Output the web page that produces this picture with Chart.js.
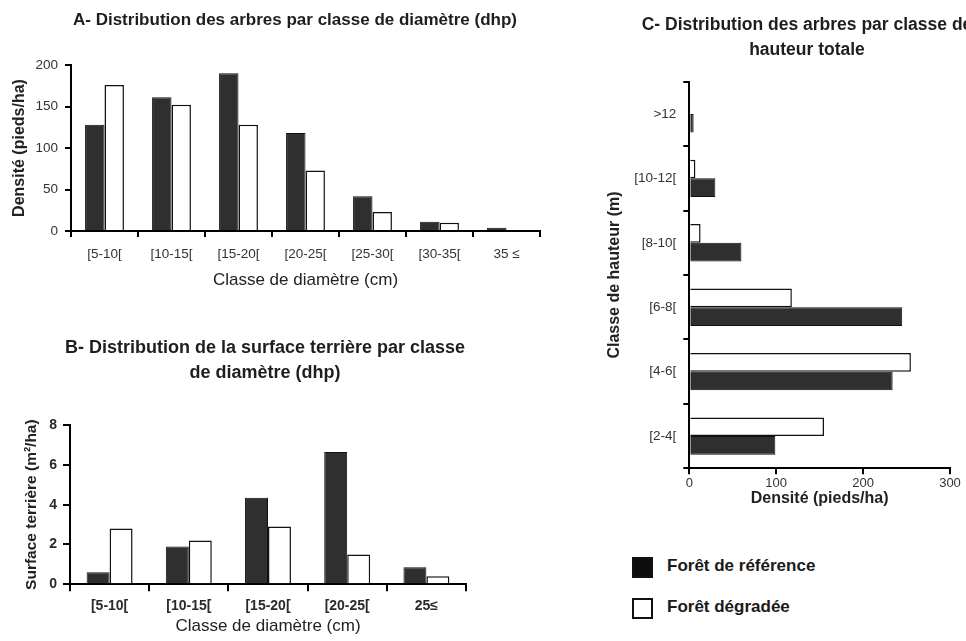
<!DOCTYPE html>
<html lang="fr">
<head>
<meta charset="utf-8">
<title>Structure des peuplements : forêt de référence et forêt dégradée</title>
<script src="https://cdn.jsdelivr.net/npm/chart.js@4.4.1/dist/chart.umd.min.js"></script>
<style>
  html, body { margin: 0; padding: 0; background: #fff; overflow: hidden; }
  #page { position: relative; width: 966px; height: 641px; overflow: hidden; background: #fff; }
  #page canvas { position: absolute; }
  #cA { left: 0; top: 0; }
  #cB { left: 0; top: 330px; }
  #cC { left: 580px; top: 0; }
  #legend {
    position: absolute; left: 632px; top: 557px;
    font: bold 17px 'Liberation Sans', Arial, Helvetica, sans-serif; color: #1a1a1a;
  }
  #legend .item { display: flex; align-items: center; height: 21px; margin-bottom: 20px; white-space: nowrap; }
  #legend .swatch { width: 21px; height: 21px; box-sizing: border-box; margin-right: 14px; }
  #legend .txt { position: relative; top: -2px; }
</style>
</head>
<body>
<div id="page">
  <canvas id="cA" width="590" height="300"></canvas>
  <canvas id="cB" width="530" height="311"></canvas>
  <canvas id="cC" width="454" height="520"></canvas>
  <div id="legend"></div>
</div>
<script>
// ---- data ----
const seriesRef = 'Forêt de référence';
const seriesDeg = 'Forêt dégradée';

// A: tree density by diameter class
const diamClasses = ['[5-10[', '[10-15[', '[15-20[', '[20-25[', '[25-30[', '[30-35[', '35 ≤'];
const densityRef = [128, 161, 190, 118, 42, 11, 4];
const densityDeg = [176, 152, 128, 73, 23, 10, 0];
const densityTicks = [0, 50, 100, 150, 200];

// B: basal area by diameter class
const basalClasses = ['[5-10[', '[10-15[', '[15-20[', '[20-25[', '25≤'];
const basalRef = [0.6, 1.9, 4.35, 6.65, 0.85];
const basalDeg = [2.8, 2.2, 2.9, 1.5, 0.4];
const basalTicks = [0, 2, 4, 6, 8];

// C: tree density by total height class (top to bottom)
const heightClasses = ['>12', '[10-12[', '[8-10[', '[6-8[', '[4-6[', '[2-4['];
const heightRef = [5, 30, 60, 245, 234, 99];
const heightDeg = [0, 7, 13, 118, 255, 155];
const heightDensityTicks = [0, 100, 200, 300];

// ---- shared styling ----
const FONT = "'Liberation Sans', Arial, Helvetica, sans-serif";
Chart.defaults.font.family = FONT;
Chart.defaults.color = '#2a2a2a';
Chart.defaults.animation = false;

const refStyle = { backgroundColor: '#2f2f2f', borderColor: '#111', borderWidth: 1 };
const degStyle = { backgroundColor: '#ffffff', borderColor: '#111', borderWidth: 1.5 };
const barDefaults = { bar: { categoryPercentage: 0.58, barPercentage: 1 } };

// black axis line with short outward tick marks, no grid inside the plot
function axisLines(tickLen) {
  return {
    grid: { display: true, drawOnChartArea: false, drawTicks: true, tickLength: tickLen,
            tickWidth: 2, tickColor: '#000', color: '#000', lineWidth: 2 },
    border: { display: true, color: '#000', width: 2 }
  };
}
function fixedTicks(values) {
  return function (scale) { scale.ticks = values.map(v => ({ value: v })); };
}
// empty right-hand gutter so the panel title is centred over the whole panel
function gutter(width) {
  return {
    type: 'linear', position: 'right', display: true,
    grid: { display: false }, border: { display: false }, ticks: { display: false },
    afterFit(scale) { scale.width = width; }
  };
}
const quiet = { legend: { display: false }, tooltip: { enabled: false } };

// ---- A ----
new Chart(document.getElementById('cA'), {
  type: 'bar',
  data: {
    labels: diamClasses,
    datasets: [
      { label: seriesRef, data: densityRef, ...refStyle },
      { label: seriesDeg, data: densityDeg, ...degStyle }
    ]
  },
  options: {
    responsive: false, devicePixelRatio: 1,
    datasets: barDefaults,
    layout: { padding: 0 },
    plugins: {
      ...quiet,
      title: {
        display: true, text: 'A- Distribution des arbres par classe de diamètre (dhp)',
        color: '#1e1e1e', font: { size: 17, weight: 'bold', lineHeight: 1.2 },
        padding: { top: 9.8, bottom: 34.8 }
      }
    },
    scales: {
      x: {
        ...axisLines(6),
        ticks: { font: { size: 13.5 }, color: '#333', padding: 8.9, maxRotation: 0, autoSkip: false },
        title: { display: true, text: 'Classe de diamètre (cm)', color: '#222',
                 font: { size: 17 }, padding: { top: 0, bottom: 9.8 } },
        afterFit(s) { s.height = 69; }
      },
      y: {
        min: 0, max: 200,
        ...axisLines(6),
        afterBuildTicks: fixedTicks(densityTicks),
        ticks: { font: { size: 13.5 }, color: '#333', padding: 7 },
        title: { display: true, text: 'Densité (pieds/ha)', color: '#222',
                 font: { size: 16, weight: 'bold' }, padding: { top: 10.4, bottom: 0 } },
        afterFit(s) { s.width = 71; }
      },
      gutter: gutter(50)
    }
  }
});

// ---- B ----
new Chart(document.getElementById('cB'), {
  type: 'bar',
  data: {
    labels: basalClasses,
    datasets: [
      { label: seriesRef, data: basalRef, ...refStyle },
      { label: seriesDeg, data: basalDeg, ...degStyle }
    ]
  },
  options: {
    responsive: false, devicePixelRatio: 1,
    datasets: barDefaults,
    layout: { padding: 0 },
    plugins: {
      ...quiet,
      title: {
        display: true,
        text: ['B- Distribution de la surface terrière par classe', 'de diamètre (dhp)'],
        color: '#1e1e1e', font: { size: 18, weight: 'bold', lineHeight: 25 / 18 },
        padding: { top: 5.5, bottom: 39.5 }
      }
    },
    scales: {
      x: {
        ...axisLines(7),
        ticks: { font: { size: 14, weight: 'bold' }, color: '#2a2a2a', padding: 6.8, maxRotation: 0, autoSkip: false },
        title: { display: true, text: 'Classe de diamètre (cm)', color: '#222',
                 font: { size: 17 }, padding: { top: 0, bottom: 4.8 } },
        afterFit(s) { s.height = 56.7; }
      },
      y: {
        min: 0, max: 8,
        ...axisLines(7),
        afterBuildTicks: fixedTicks(basalTicks),
        ticks: { font: { size: 14, weight: 'bold' }, color: '#2a2a2a', padding: 6 },
        title: { display: true, text: 'Surface terrière (m²/ha)', color: '#222',
                 font: { size: 15.5, weight: 'bold' }, padding: { top: 22.7, bottom: 0 } },
        afterFit(s) { s.width = 70; }
      },
      gutter: gutter(64)
    }
  }
});

// ---- C (horizontal bars) ----
// builds the shared legend below panel C from the chart's own legend items
const htmlLegend = {
  id: 'htmlLegend',
  afterUpdate(chart) {
    const box = document.getElementById('legend');
    box.innerHTML = '';
    const items = chart.options.plugins.legend.labels.generateLabels(chart).slice().reverse();
    items.forEach(it => {
      const row = document.createElement('div');
      row.className = 'item';
      const sw = document.createElement('span');
      sw.className = 'swatch';
      sw.style.background = it.fillStyle === '#2f2f2f' ? '#0d0d0d' : it.fillStyle;
      sw.style.border = '2px solid ' + it.strokeStyle;
      const tx = document.createElement('span');
      tx.className = 'txt';
      tx.textContent = it.text;
      row.appendChild(sw);
      row.appendChild(tx);
      box.appendChild(row);
    });
  }
};

new Chart(document.getElementById('cC'), {
  type: 'bar',
  data: {
    labels: heightClasses,
    datasets: [
      { label: seriesDeg, data: heightDeg, ...degStyle },
      { label: seriesRef, data: heightRef, ...refStyle }
    ]
  },
  plugins: [htmlLegend],
  options: {
    indexAxis: 'y',
    responsive: false, devicePixelRatio: 1,
    datasets: barDefaults,
    layout: { padding: 0 },
    plugins: {
      ...quiet,
      title: {
        display: true,
        text: ['C- Distribution des arbres par classe de', 'hauteur totale'],
        color: '#1e1e1e', font: { size: 17.5, weight: 'bold', lineHeight: 25 / 17.5 },
        padding: { top: 12.5, bottom: 19.2 }
      }
    },
    scales: {
      y: {
        ...axisLines(6),
        ticks: { font: { size: 13.5 }, color: '#333', padding: 7, autoSkip: false },
        title: { display: true, text: 'Classe de hauteur (m)', color: '#222',
                 font: { size: 16, weight: 'bold' }, padding: { top: 25.4, bottom: 0 } },
        afterFit(s) { s.width = 109.3; }
      },
      x: {
        min: 0, max: 300,
        ...axisLines(6),
        afterBuildTicks: fixedTicks(heightDensityTicks),
        ticks: { font: { size: 13 }, color: '#333', padding: 1, maxRotation: 0 },
        title: { display: true, text: 'Densité (pieds/ha)', color: '#222',
                 font: { size: 16, weight: 'bold' }, padding: { top: 0, bottom: 11.4 } },
        afterFit(s) { s.height = 51.7; }
      },
      gutter: gutter(84)
    }
  }
});
</script>
</body>
</html>
